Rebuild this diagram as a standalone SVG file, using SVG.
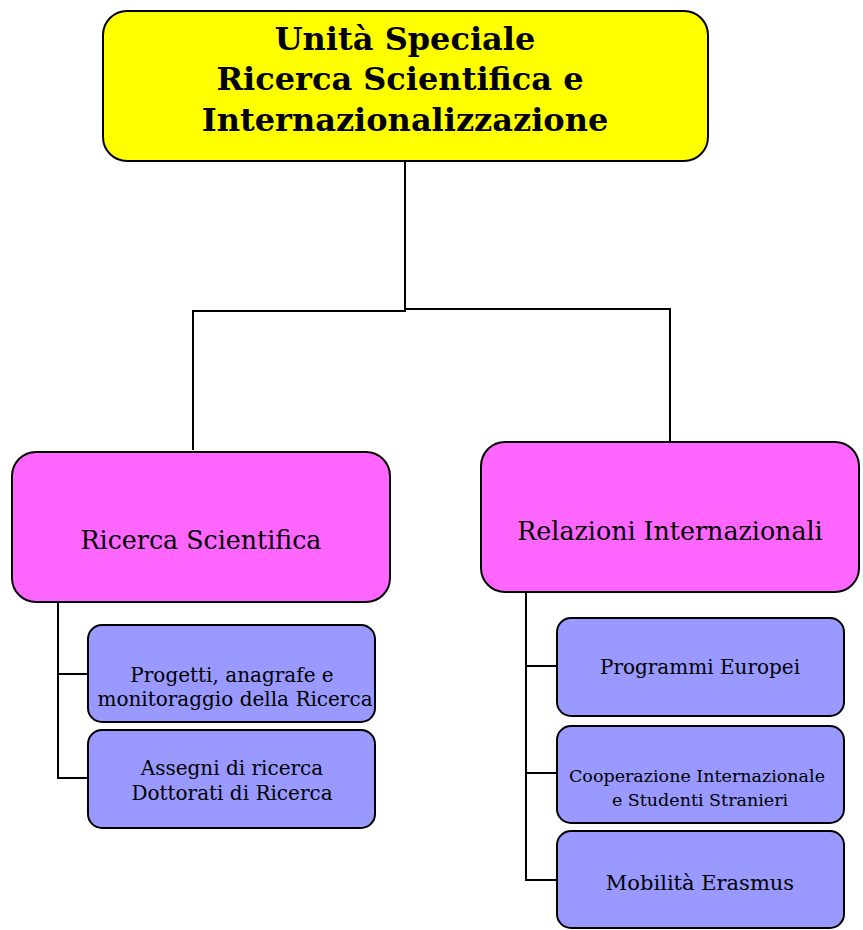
<svg xmlns="http://www.w3.org/2000/svg" width="863" height="930" viewBox="0 0 863 930">
<style>
.box{stroke:#000;stroke-width:2}
.top{fill:#FFFF00}
.mid{fill:#FF66FF}
.sub{fill:#9999FF}
.t{font-family:"DejaVu Serif","Liberation Serif",serif;text-anchor:middle;fill:#000}
.title{font-weight:bold;font-size:32px}
.midt{font-size:25.3px}
.subt{font-size:20px}
.small{font-size:17.5px}
.conn{fill:none;stroke:#000;stroke-width:2}
</style>
<rect width="863" height="930" fill="#fff"/>
<g id="connectors">
<polyline class="conn" points="405,161 405,311 193,311 193,450"/>
<polyline class="conn" points="405,309 670,309 670,443"/>
<polyline class="conn" points="58,602 58,778 88,778"/>
<line class="conn" x1="58" y1="674" x2="88" y2="674"/>
<polyline class="conn" points="526,592 526,880 557,880"/>
<line class="conn" x1="526" y1="666" x2="557" y2="666"/>
<line class="conn" x1="526" y1="773" x2="557" y2="773"/>
</g>
<g id="root">
<rect class="box top" x="103" y="11" width="605" height="150" rx="24"/>
<text class="t title" x="405" y="50">Unità Speciale</text>
<text class="t title" x="400" y="90">Ricerca Scientifica e</text>
<text class="t title" x="405" y="131">Internazionalizzazione</text>
</g>
<g id="ricerca">
<rect class="box mid" x="12" y="452" width="378" height="150" rx="24"/>
<text class="t midt" x="201" y="549">Ricerca Scientifica</text>
</g>
<g id="relazioni">
<rect class="box mid" x="481" y="442" width="378" height="150" rx="24"/>
<text class="t midt" x="670" y="540">Relazioni Internazionali</text>
</g>
<g id="progetti">
<rect class="box sub" x="88" y="625" width="287" height="97" rx="14"/>
<text class="t subt" x="232" y="682">Progetti, anagrafe e</text>
<text class="t subt" x="235" y="706">monitoraggio della Ricerca</text>
</g>
<g id="assegni">
<rect class="box sub" x="88" y="730" width="287" height="98" rx="14"/>
<text class="t subt" x="232" y="775">Assegni di ricerca</text>
<text class="t subt" x="232" y="800">Dottorati di Ricerca</text>
</g>
<g id="programmi">
<rect class="box sub" x="557" y="618" width="287" height="98" rx="14"/>
<text class="t subt" x="700" y="674">Programmi Europei</text>
</g>
<g id="cooperazione">
<rect class="box sub" x="557" y="726" width="287" height="97" rx="14"/>
<text class="t small" x="697" y="782">Cooperazione Internazionale</text>
<text class="t small" x="700" y="806">e Studenti Stranieri</text>
</g>
<g id="erasmus">
<rect class="box sub" x="557" y="831" width="287" height="97" rx="14"/>
<text class="t subt" x="700" y="890" style="font-size:21px">Mobilità Erasmus</text>
</g>
</svg>
